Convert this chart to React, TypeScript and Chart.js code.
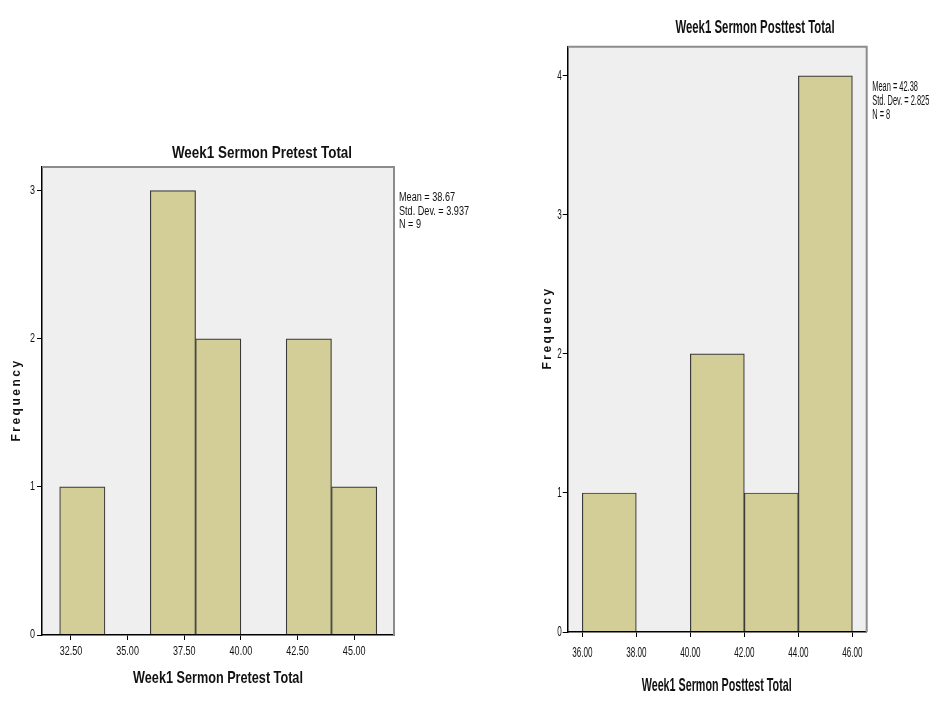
import React, { useEffect, useRef } from "react";
import { Chart, registerables } from "chart.js";

Chart.register(...registerables);

const NARROW = '"Liberation Sans Narrow", "Liberation Sans", Arial, sans-serif';
const WIDE = '"Liberation Sans", Arial, sans-serif';

// ---- Pretest histogram data ----
const preTitle = "Week1 Sermon Pretest Total";
const preBinCenters = [33, 35, 37, 39, 41, 43, 45];
const preCounts = [1, 0, 3, 2, 0, 2, 1];
const preXTicks = [32.5, 35, 37.5, 40, 42.5, 45];
const preYTicks = [0, 1, 2, 3];
const preStats = ["Mean = 38.67", "Std. Dev. = 3.937", "N = 9"];

// ---- Posttest histogram data ----
const postTitle = "Week1 Sermon Posttest Total";
const postBinCenters = [37, 39, 41, 43, 45];
const postCounts = [1, 0, 2, 1, 4];
const postXTicks = [36, 38, 40, 42, 44, 46];
const postYTicks = [0, 1, 2, 3, 4];
const postStats = ["Mean = 42.38", "Std. Dev. = 2.825", "N = 8"];

const yTitle = "Frequency";

type Spec = {
  left: number;
  width: number;
  height: number;
  area: { left: number; top: number; right: number; bottom: number };
  xMin: number;
  xMax: number;
  yMax: number;
  centers: number[];
  counts: number[];
  xTicks: number[];
  yTicks: number[];
  title: string;
  stats: string[];
  titleSx: number;
  xTitleSx: number;
  tickSx: number;
  statSx: number;
  titleFont: number;
  tickFont: number;
  statFont: number;
  titlePos: [number, number];
  xTitlePos: [number, number];
  yTitlePos: [number, number];
  statsPos: [number, number, number];
  xTickDy: number;
  yTickDx: number;
};

const specs: Spec[] = [
  {
    left: 0,
    width: 520,
    height: 708,
    area: { left: 42, top: 167, right: 394, bottom: 635 },
    xMin: 31.22,
    xMax: 46.76,
    yMax: 3.16,
    centers: preBinCenters,
    counts: preCounts,
    xTicks: preXTicks,
    yTicks: preYTicks,
    title: preTitle,
    stats: preStats,
    titleSx: 0.79,
    xTitleSx: 0.745,
    tickSx: 0.75,
    statSx: 0.76,
    titleFont: 17,
    tickFont: 12,
    statFont: 12,
    titlePos: [262, 153],
    xTitlePos: [218, 678],
    yTitlePos: [17, 400],
    statsPos: [399, 198, 13.3],
    xTickDy: 17,
    yTickDx: 7,
  },
  {
    left: 470,
    width: 469,
    height: 708,
    area: { left: 97.7, top: 46.7, right: 396.7, bottom: 632 },
    xMin: 35.46,
    xMax: 46.53,
    yMax: 4.21,
    centers: postBinCenters,
    counts: postCounts,
    xTicks: postXTicks,
    yTicks: postYTicks,
    title: postTitle,
    stats: postStats,
    titleSx: 0.6,
    xTitleSx: 0.565,
    tickSx: 0.54,
    statSx: 0.53,
    titleFont: 19,
    tickFont: 15,
    statFont: 14,
    titlePos: [285, 27.5],
    xTitlePos: [246.7, 686],
    yTitlePos: [77.5, 328],
    statsPos: [402.3, 86.7, 14.2],
    xTickDy: 20.5,
    yTickDx: 6,
  },
];

function drawText(
  ctx: CanvasRenderingContext2D,
  text: string,
  x: number,
  y: number,
  font: string,
  align: CanvasTextAlign,
  sx: number
) {
  ctx.save();
  ctx.font = font;
  ctx.fillStyle = "#111";
  ctx.textAlign = align;
  ctx.textBaseline = "middle";
  ctx.translate(x, y);
  ctx.scale(sx, 1);
  ctx.fillText(text, 0, 0);
  ctx.restore();
}

const spssPlugin = {
  id: "spssDecor",
  beforeDraw(chart: any) {
    const ca = chart.chartArea;
    const ctx = chart.ctx;
    ctx.save();
    ctx.fillStyle = "#efefef";
    ctx.fillRect(ca.left, ca.top, ca.right - ca.left, ca.bottom - ca.top);
    ctx.restore();
  },
  afterDraw(chart: any) {
    const spec: Spec = chart.options.plugins.spssDecor.spec;
    const ctx = chart.ctx;
    const ca = chart.chartArea;
    // top & right frame
    ctx.save();
    ctx.strokeStyle = "#8c8c8c";
    ctx.lineWidth = 2;
    ctx.beginPath();
    ctx.moveTo(ca.left, ca.top);
    ctx.lineTo(ca.right, ca.top);
    ctx.lineTo(ca.right, ca.bottom);
    ctx.stroke();
    ctx.restore();

    // tick labels
    const xs = chart.scales.x;
    const ys = chart.scales.y;
    spec.xTicks.forEach((v) => {
      drawText(ctx, v.toFixed(2), xs.getPixelForValue(v), ca.bottom + spec.xTickDy,
        `${spec.tickFont}px ${NARROW}`, "center", spec.tickSx);
    });
    spec.yTicks.forEach((v) => {
      drawText(ctx, String(v), ca.left - spec.yTickDx, ys.getPixelForValue(v),
        `${spec.tickFont}px ${NARROW}`, "right", spec.tickSx);
    });
    // titles
    drawText(ctx, spec.title, spec.titlePos[0], spec.titlePos[1],
      `bold ${spec.titleFont}px ${NARROW}`, "center", spec.titleSx);
    drawText(ctx, spec.title, spec.xTitlePos[0], spec.xTitlePos[1],
      `bold ${spec.titleFont}px ${NARROW}`, "center", spec.xTitleSx);
    // stats
    spec.stats.forEach((s, i) => {
      drawText(ctx, s, spec.statsPos[0], spec.statsPos[1] + i * spec.statsPos[2],
        `${spec.statFont}px ${NARROW}`, "left", spec.statSx);
    });
    // y title
    ctx.save();
    ctx.translate(spec.yTitlePos[0], spec.yTitlePos[1]);
    ctx.rotate(-Math.PI / 2);
    ctx.font = `bold 12px ${WIDE}`;
    (ctx as any).letterSpacing = "2.5px";
    ctx.fillStyle = "#111";
    ctx.textAlign = "center";
    ctx.textBaseline = "middle";
    ctx.fillText(yTitle, 0, 0);
    ctx.restore();
  },
};

function Histogram({ spec }: { spec: Spec }) {
  const ref = useRef<HTMLCanvasElement>(null);
  useEffect(() => {
    if (!ref.current) return;
    const a = spec.area;
    const yAxisW = 30;
    const xAxisH = 40;
    const chart = new Chart(ref.current, {
      type: "bar",
      data: {
        datasets: [
          {
            data: spec.centers.map((c, i) => ({ x: c, y: spec.counts[i] })),
            backgroundColor: "#d3ce97",
            borderColor: "#3a3a3a",
            borderWidth: 1.2,
            barPercentage: 1,
            categoryPercentage: 1,
          },
        ],
      },
      plugins: [spssPlugin],
      options: {
        responsive: false,
        animation: false,
        devicePixelRatio: 1,
        layout: {
          padding: {
            left: a.left - yAxisW,
            right: spec.width - a.right,
            top: a.top,
            bottom: spec.height - a.bottom - xAxisH,
          },
        },
        plugins: {
          legend: { display: false },
          tooltip: { enabled: false },
          title: { display: false },
          spssDecor: { spec },
        } as any,
        scales: {
          x: {
            type: "linear",
            min: spec.xMin,
            max: spec.xMax,
            offset: false,
            afterBuildTicks: (s: any) => {
              s.ticks = spec.xTicks.map((v) => ({ value: v }));
            },
            afterFit: (s: any) => {
              s.height = xAxisH;
            },
            ticks: { display: false },
            grid: {
              offset: false,
              drawOnChartArea: false,
              drawTicks: true,
              tickLength: 5,
              color: "#000",
              lineWidth: 1,
            },
            border: { display: true, color: "#000", width: 1.5, z: 1 },
          },
          y: {
            type: "linear",
            min: 0,
            max: spec.yMax,
            afterBuildTicks: (s: any) => {
              s.ticks = spec.yTicks.map((v) => ({ value: v }));
            },
            afterFit: (s: any) => {
              s.width = yAxisW;
            },
            ticks: { display: false },
            grid: {
              drawOnChartArea: false,
              drawTicks: true,
              tickLength: 5,
              color: "#000",
              lineWidth: 1,
            },
            border: { display: true, color: "#000", width: 1.5, z: 1 },
          },
        },
      } as any,
    });
    return () => chart.destroy();
  }, [spec]);
  return (
    <canvas
      ref={ref}
      width={spec.width}
      height={spec.height}
      style={{
        position: "absolute",
        left: spec.left,
        top: 0,
        width: spec.width,
        height: spec.height,
      }}
    />
  );
}

export default function App() {
  return (
    <div
      style={{
        position: "absolute",
        left: 0,
        top: 0,
        width: 939,
        height: 708,
        background: "#fff",
        overflow: "hidden",
      }}
    >
      {specs.map((s, i) => (
        <Histogram key={i} spec={s} />
      ))}
    </div>
  );
}
